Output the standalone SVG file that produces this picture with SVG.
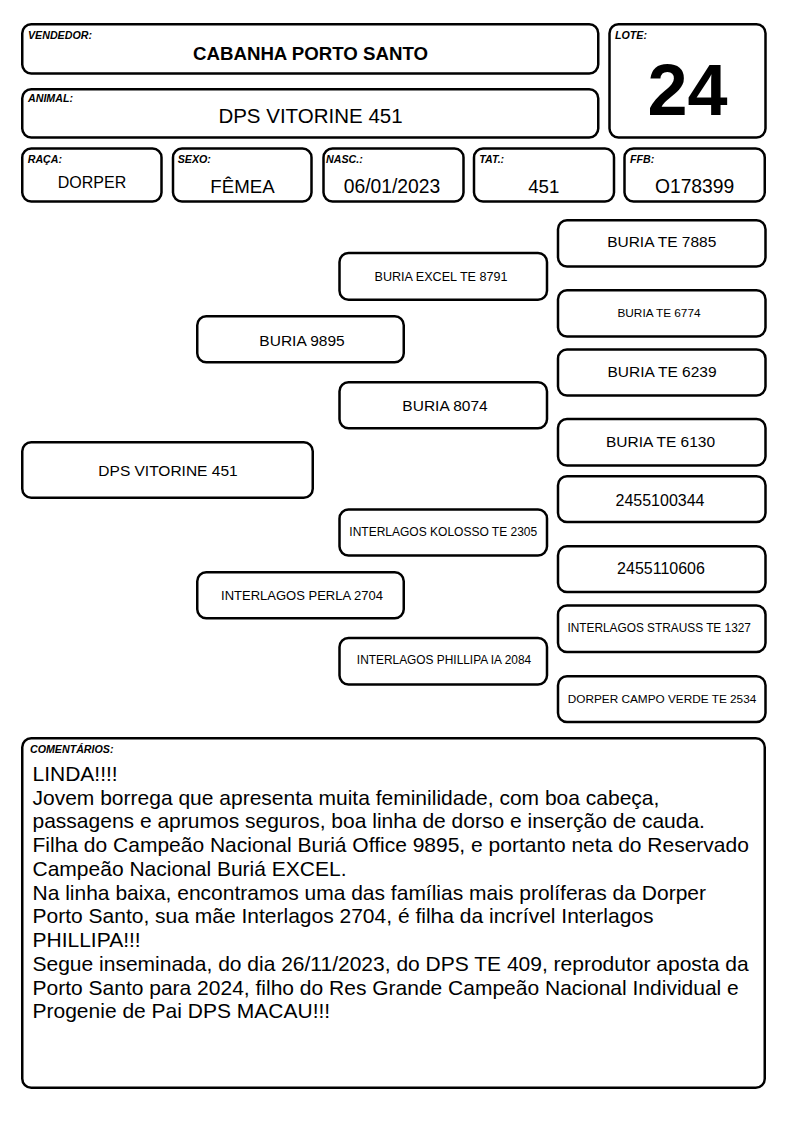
<svg xmlns="http://www.w3.org/2000/svg" width="794" height="1123" viewBox="0 0 794 1123">
<style>
.box{fill:#fff;stroke:#000;stroke-width:2.5}
text{font-family:"Liberation Sans",Arial,sans-serif;fill:#000}
.lbl{font-size:10.67px;font-weight:bold;font-style:italic}
.c{text-anchor:middle}
.p{font-size:15.5px;text-anchor:middle}
.n{font-size:16px;text-anchor:middle}
.cm{font-size:21px}
</style>
<rect width="794" height="1123" fill="#fff"/>
<g id="vendedor">
<rect class="box" x="22.25" y="24.25" width="576" height="49.25" rx="9"/>
<text class="lbl" x="28" y="38.5">VENDEDOR:</text>
<text class="c" x="310.5" y="59.7" style="font-size:18.67px;font-weight:bold">CABANHA PORTO SANTO</text>
</g>
<g id="animal">
<rect class="box" x="22.25" y="89.25" width="576" height="48.25" rx="9"/>
<text class="lbl" x="28" y="102">ANIMAL:</text>
<text class="c" x="310.5" y="123" style="font-size:20.5px">DPS VITORINE 451</text>
</g>
<g id="lote">
<rect class="box" x="609.5" y="24.25" width="156" height="113.25" rx="9"/>
<text class="lbl" x="615" y="38.7">LOTE:</text>
<text class="c" x="687.5" y="114.7" style="font-size:72px;font-weight:bold">24</text>
</g>
<g id="raca">
<rect class="box" x="22.25" y="148.5" width="139.25" height="53" rx="9"/>
<text class="lbl" x="27.7" y="162.7">RAÇA:</text>
<text class="c" x="92" y="188.3" style="font-size:16px">DORPER</text>
</g>
<g id="sexo">
<rect class="box" x="173" y="148.5" width="138.5" height="53" rx="9"/>
<text class="lbl" x="177.7" y="162.7">SEXO:</text>
<text class="c" x="242.5" y="193" style="font-size:18.67px">FÊMEA</text>
</g>
<g id="nasc">
<rect class="box" x="323.5" y="148.5" width="140" height="53" rx="9"/>
<text class="lbl" x="326" y="162.7">NASC.:</text>
<text class="c" x="392" y="193" style="font-size:19.3px">06/01/2023</text>
</g>
<g id="tat">
<rect class="box" x="474" y="148.5" width="140" height="53" rx="9"/>
<text class="lbl" x="479.3" y="162.7">TAT.:</text>
<text class="c" x="543.7" y="193" style="font-size:18.67px">451</text>
</g>
<g id="ffb">
<rect class="box" x="624.5" y="148.5" width="140.25" height="53" rx="9"/>
<text class="lbl" x="630" y="162.7">FFB:</text>
<text class="c" x="694.6" y="193" style="font-size:19.3px">O178399</text>
</g>
<g id="connectors"/>
<g id="ped-dps-vitorine-451">
<rect class="box" x="22.25" y="442.25" width="290.5" height="55.5" rx="9"/>
<text class="p" x="168" y="476">DPS VITORINE 451</text>
</g>
<g id="ped-buria-9895">
<rect class="box" x="197.25" y="316.25" width="206.5" height="46" rx="9"/>
<text class="p" x="302" y="346">BURIA 9895</text>
</g>
<g id="ped-interlagos-perla-2704">
<rect class="box" x="197.25" y="572.25" width="206.5" height="46" rx="9"/>
<text class="c" x="302" y="600" style="font-size:13px">INTERLAGOS PERLA 2704</text>
</g>
<g id="ped-buria-excel-te-8791">
<rect class="box" x="339.5" y="253" width="207.5" height="46.75" rx="9"/>
<text class="c" x="441" y="281" style="font-size:12.6px">BURIA EXCEL TE 8791</text>
</g>
<g id="ped-buria-8074">
<rect class="box" x="339.5" y="382.25" width="207.5" height="46" rx="9"/>
<text class="p" x="445" y="411">BURIA 8074</text>
</g>
<g id="ped-interlagos-kolosso-te-2305">
<rect class="box" x="339.5" y="509.5" width="207.5" height="46" rx="9"/>
<text class="c" x="443.3" y="536" style="font-size:12px">INTERLAGOS KOLOSSO TE 2305</text>
</g>
<g id="ped-interlagos-phillipa-ia-2084">
<rect class="box" x="339.5" y="638" width="207.5" height="46.5" rx="9"/>
<text class="c" x="444" y="664" style="font-size:11.9px">INTERLAGOS PHILLIPA IA 2084</text>
</g>
<g id="ped-buria-te-7885">
<rect class="box" x="558" y="220.25" width="207.5" height="46.25" rx="9"/>
<text class="p" x="661.7" y="247.3">BURIA TE 7885</text>
</g>
<g id="ped-buria-te-6774">
<rect class="box" x="558" y="290.25" width="207.5" height="46.25" rx="9"/>
<text class="c" x="659" y="317" style="font-size:11.8px">BURIA TE 6774</text>
</g>
<g id="ped-buria-te-6239">
<rect class="box" x="558" y="349.5" width="207.5" height="46" rx="9"/>
<text class="p" x="662" y="376.7">BURIA TE 6239</text>
</g>
<g id="ped-buria-te-6130">
<rect class="box" x="558" y="419" width="207.5" height="46.5" rx="9"/>
<text class="p" x="660.5" y="447.3">BURIA TE 6130</text>
</g>
<g id="ped-2455100344">
<rect class="box" x="558" y="476.25" width="207.5" height="45.75" rx="9"/>
<text class="n" x="660" y="505.7">2455100344</text>
</g>
<g id="ped-2455110606">
<rect class="box" x="558" y="546.25" width="207.5" height="45.75" rx="9"/>
<text class="n" x="661" y="574">2455110606</text>
</g>
<g id="ped-interlagos-strauss-te-1327">
<rect class="box" x="558" y="605.5" width="207.5" height="46.5" rx="9"/>
<text class="c" x="659.2" y="631.5" style="font-size:11.85px">INTERLAGOS STRAUSS TE 1327</text>
</g>
<g id="ped-dorper-campo-verde-te-2534">
<rect class="box" x="558" y="676.25" width="207.5" height="45.75" rx="9"/>
<text class="c" x="662" y="702.7" style="font-size:11.8px">DORPER CAMPO VERDE TE 2534</text>
</g>
<g id="comentarios">
<rect class="box" x="22.25" y="738.25" width="742.5" height="349.5" rx="9"/>
<text class="lbl" x="30" y="752.7">COMENTÁRIOS:</text>
<text class="cm" x="32.5" y="780.7">LINDA!!!!</text>
<text class="cm" x="32.5" y="804.5">Jovem borrega que apresenta muita feminilidade, com boa cabeça,</text>
<text class="cm" x="32.5" y="828.2">passagens e aprumos seguros, boa linha de dorso e inserção de cauda.</text>
<text class="cm" x="32.5" y="852">Filha do Campeão Nacional Buriá Office 9895, e portanto neta do Reservado</text>
<text class="cm" x="32.5" y="875.8">Campeão Nacional Buriá EXCEL.</text>
<text class="cm" x="32.5" y="899.5">Na linha baixa, encontramos uma das famílias mais prolíferas da Dorper</text>
<text class="cm" x="32.5" y="923.3">Porto Santo, sua mãe Interlagos 2704, é filha da incrível Interlagos</text>
<text class="cm" x="32.5" y="947.1">PHILLIPA!!!</text>
<text class="cm" x="32.5" y="970.9">Segue inseminada, do dia 26/11/2023, do DPS TE 409, reprodutor aposta da</text>
<text class="cm" x="32.5" y="994.6">Porto Santo para 2024, filho do Res Grande Campeão Nacional Individual e</text>
<text class="cm" x="32.5" y="1018.4">Progenie de Pai DPS MACAU!!!</text>
</g>
</svg>
